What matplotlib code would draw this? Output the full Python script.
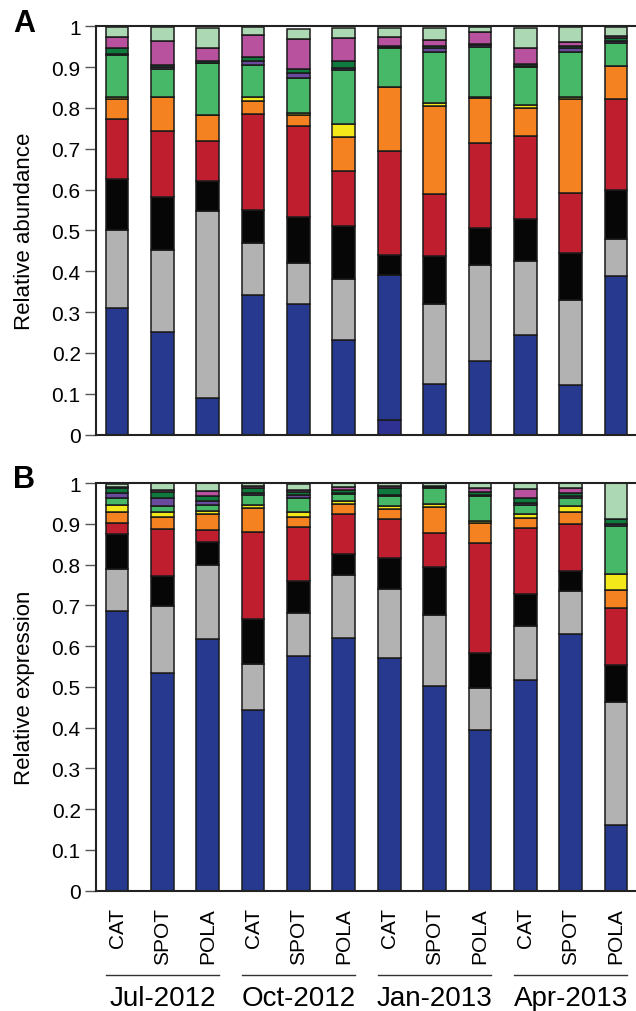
import matplotlib.pyplot as plt
import matplotlib.transforms as mtransforms
from matplotlib.lines import Line2D
import numpy as np

plt.rcParams['font.family'] = ['Liberation Sans', 'DejaVu Sans']

sites = ['CAT', 'SPOT', 'POLA'] * 4
months = ['Jul-2012', 'Oct-2012', 'Jan-2013', 'Apr-2013']

# layer order bottom -> top
layer_colors = ['#2e3192', '#27388f', '#b2b2b2', '#060606', '#be1e2d', '#f58220',
                '#f2e81a', '#47b867', '#6a4a9c', '#0f7a3d', '#b8529e', '#acd9b3']

# Panel A: relative abundance
abund_indigo = [0, 0, 0, 0, 0, 0, .035, 0, 0, 0, 0, 0]
abund_blue = [.309, .252, .091, .343, .320, .231, .355, .125, .180, .243, .121, .388]
abund_gray = [.191, .201, .456, .127, .100, .151, 0, .196, .236, .183, .208, .092]
abund_black = [.127, .129, .074, .081, .114, .129, .049, .117, .089, .103, .115, .118]
abund_red = [.145, .161, .097, .235, .223, .134, .255, .151, .209, .202, .148, .223]
abund_orange = [.049, .085, .066, .031, .025, .083, .158, .216, .111, .068, .231, .083]
abund_yellow = [.005, 0, 0, .010, .006, .033, 0, .007, .003, .009, .003, 0]
abund_green = [.103, .067, .127, .079, .085, .132, .094, .126, .121, .092, .112, .054]
abund_purple = [.004, .005, 0, .010, .013, .004, .003, .008, .005, .003, .008, .006]
abund_dkgreen = [.013, .005, .003, .010, .010, .019, .003, .005, .003, .004, .005, .008]
abund_magenta = [.029, .058, .032, .053, .072, .055, .022, .015, .030, .041, .011, .005]
abund_ltgreen = [.023, .036, .050, .019, .026, .024, .022, .030, .011, .047, .036, .021]

# Panel B: relative expression
expr_indigo = [0] * 12
expr_blue = [.685, .535, .617, .443, .576, .619, .570, .502, .393, .518, .629, .160]
expr_gray = [.103, .164, .181, .112, .106, .155, .169, .174, .103, .131, .106, .304]
expr_black = [.086, .072, .058, .111, .078, .052, .077, .118, .088, .079, .049, .089]
expr_red = [.029, .116, .029, .214, .132, .098, .096, .083, .269, .161, .115, .141]
expr_orange = [.025, .030, .038, .059, .024, .024, .024, .064, .048, .025, .031, .043]
expr_yellow = [.017, .011, .008, .008, .014, .008, .008, .007, .006, .011, .013, .039]
expr_green = [.018, .016, .014, .024, .034, .017, .023, .039, .060, .022, .021, .118]
expr_purple = [.013, .020, .010, .004, .006, .002, .003, .003, .004, .004, .004, .006]
expr_dkgreen = [.012, .015, .014, .013, .008, .007, .018, .003, .006, .013, .007, .011]
expr_magenta = [.002, .005, .011, .005, .006, .008, .005, 0, .010, .021, .012, 0]
expr_ltgreen = [.008, .016, .020, .007, .014, .010, .009, .007, .013, .015, .013, .089]

abund_layers = [abund_indigo, abund_blue, abund_gray, abund_black, abund_red, abund_orange,
                abund_yellow, abund_green, abund_purple, abund_dkgreen, abund_magenta, abund_ltgreen]
expr_layers = [expr_indigo, expr_blue, expr_gray, expr_black, expr_red, expr_orange,
               expr_yellow, expr_green, expr_purple, expr_dkgreen, expr_magenta, expr_ltgreen]


def drawPanel(ax, layers, ylabel_y, ylabel):
    x = np.arange(len(sites))
    bottom = np.zeros(len(sites))
    for vals, col in zip(layers, layer_colors):
        vals = np.array(vals)
        ax.bar(x, vals, bottom=bottom, width=0.5, color=col,
               edgecolor='#1a1a1a', linewidth=1.1)
        bottom += vals
    ax.set_xlim(-0.463, 11.44)
    ax.set_ylim(0, 1)
    ax.set_yticks(np.arange(0, 1.01, 0.1))
    ax.set_yticklabels(['0'] + ['%.1f' % v for v in np.arange(0.1, 0.95, 0.1)] + ['1'])
    ax.tick_params(axis='y', direction='out', length=8, width=1, color='#555555',
                   labelsize=15, pad=3)
    ax.spines['right'].set_visible(False)
    for s in ['left', 'top', 'bottom']:
        ax.spines[s].set_linewidth(1.5)
        ax.spines[s].set_color('#222222')
    fig.text(25 / 636, ylabel_y, ylabel, rotation=90, ha='center', va='center', fontsize=16)


fig = plt.figure(figsize=(6.36, 10.12), dpi=100)
axA = fig.add_axes([96 / 636, 0.5695, 1 - 96 / 636, 0.4035])
axB = fig.add_axes([96 / 636, 0.1189, 1 - 96 / 636, 0.4028])

drawPanel(axA, abund_layers, 0.771, 'Relative abundance')
drawPanel(axB, expr_layers, 0.320, 'Relative expression')

axA.set_xticks([])
axB.set_xticks(np.arange(len(sites)))
axB.set_xticklabels(sites, rotation=90, fontsize=15)
axB.tick_params(axis='x', length=0, pad=12)

fig.text(13 / 636, 1 - 9 / 1012, 'A', fontsize=22, fontweight='bold', va='top', ha='left')
fig.text(13 / 636, 1 - 465 / 1012, 'B', fontsize=22, fontweight='bold', va='top', ha='left')

# month groups under the x labels
trans = mtransforms.blended_transform_factory(axB.transData, fig.transFigure)
for i, m in enumerate(months):
    x0 = 3 * i - 0.25
    x1 = 3 * i + 2.25
    fig.add_artist(Line2D([x0, x1], [0.0356, 0.0356], transform=trans,
                          color='#333333', linewidth=1.0))
    fig.text(3 * i + 1, 0.006, m, transform=trans, ha='center', va='baseline', fontsize=20)

fig.savefig('out.png', dpi=100)
